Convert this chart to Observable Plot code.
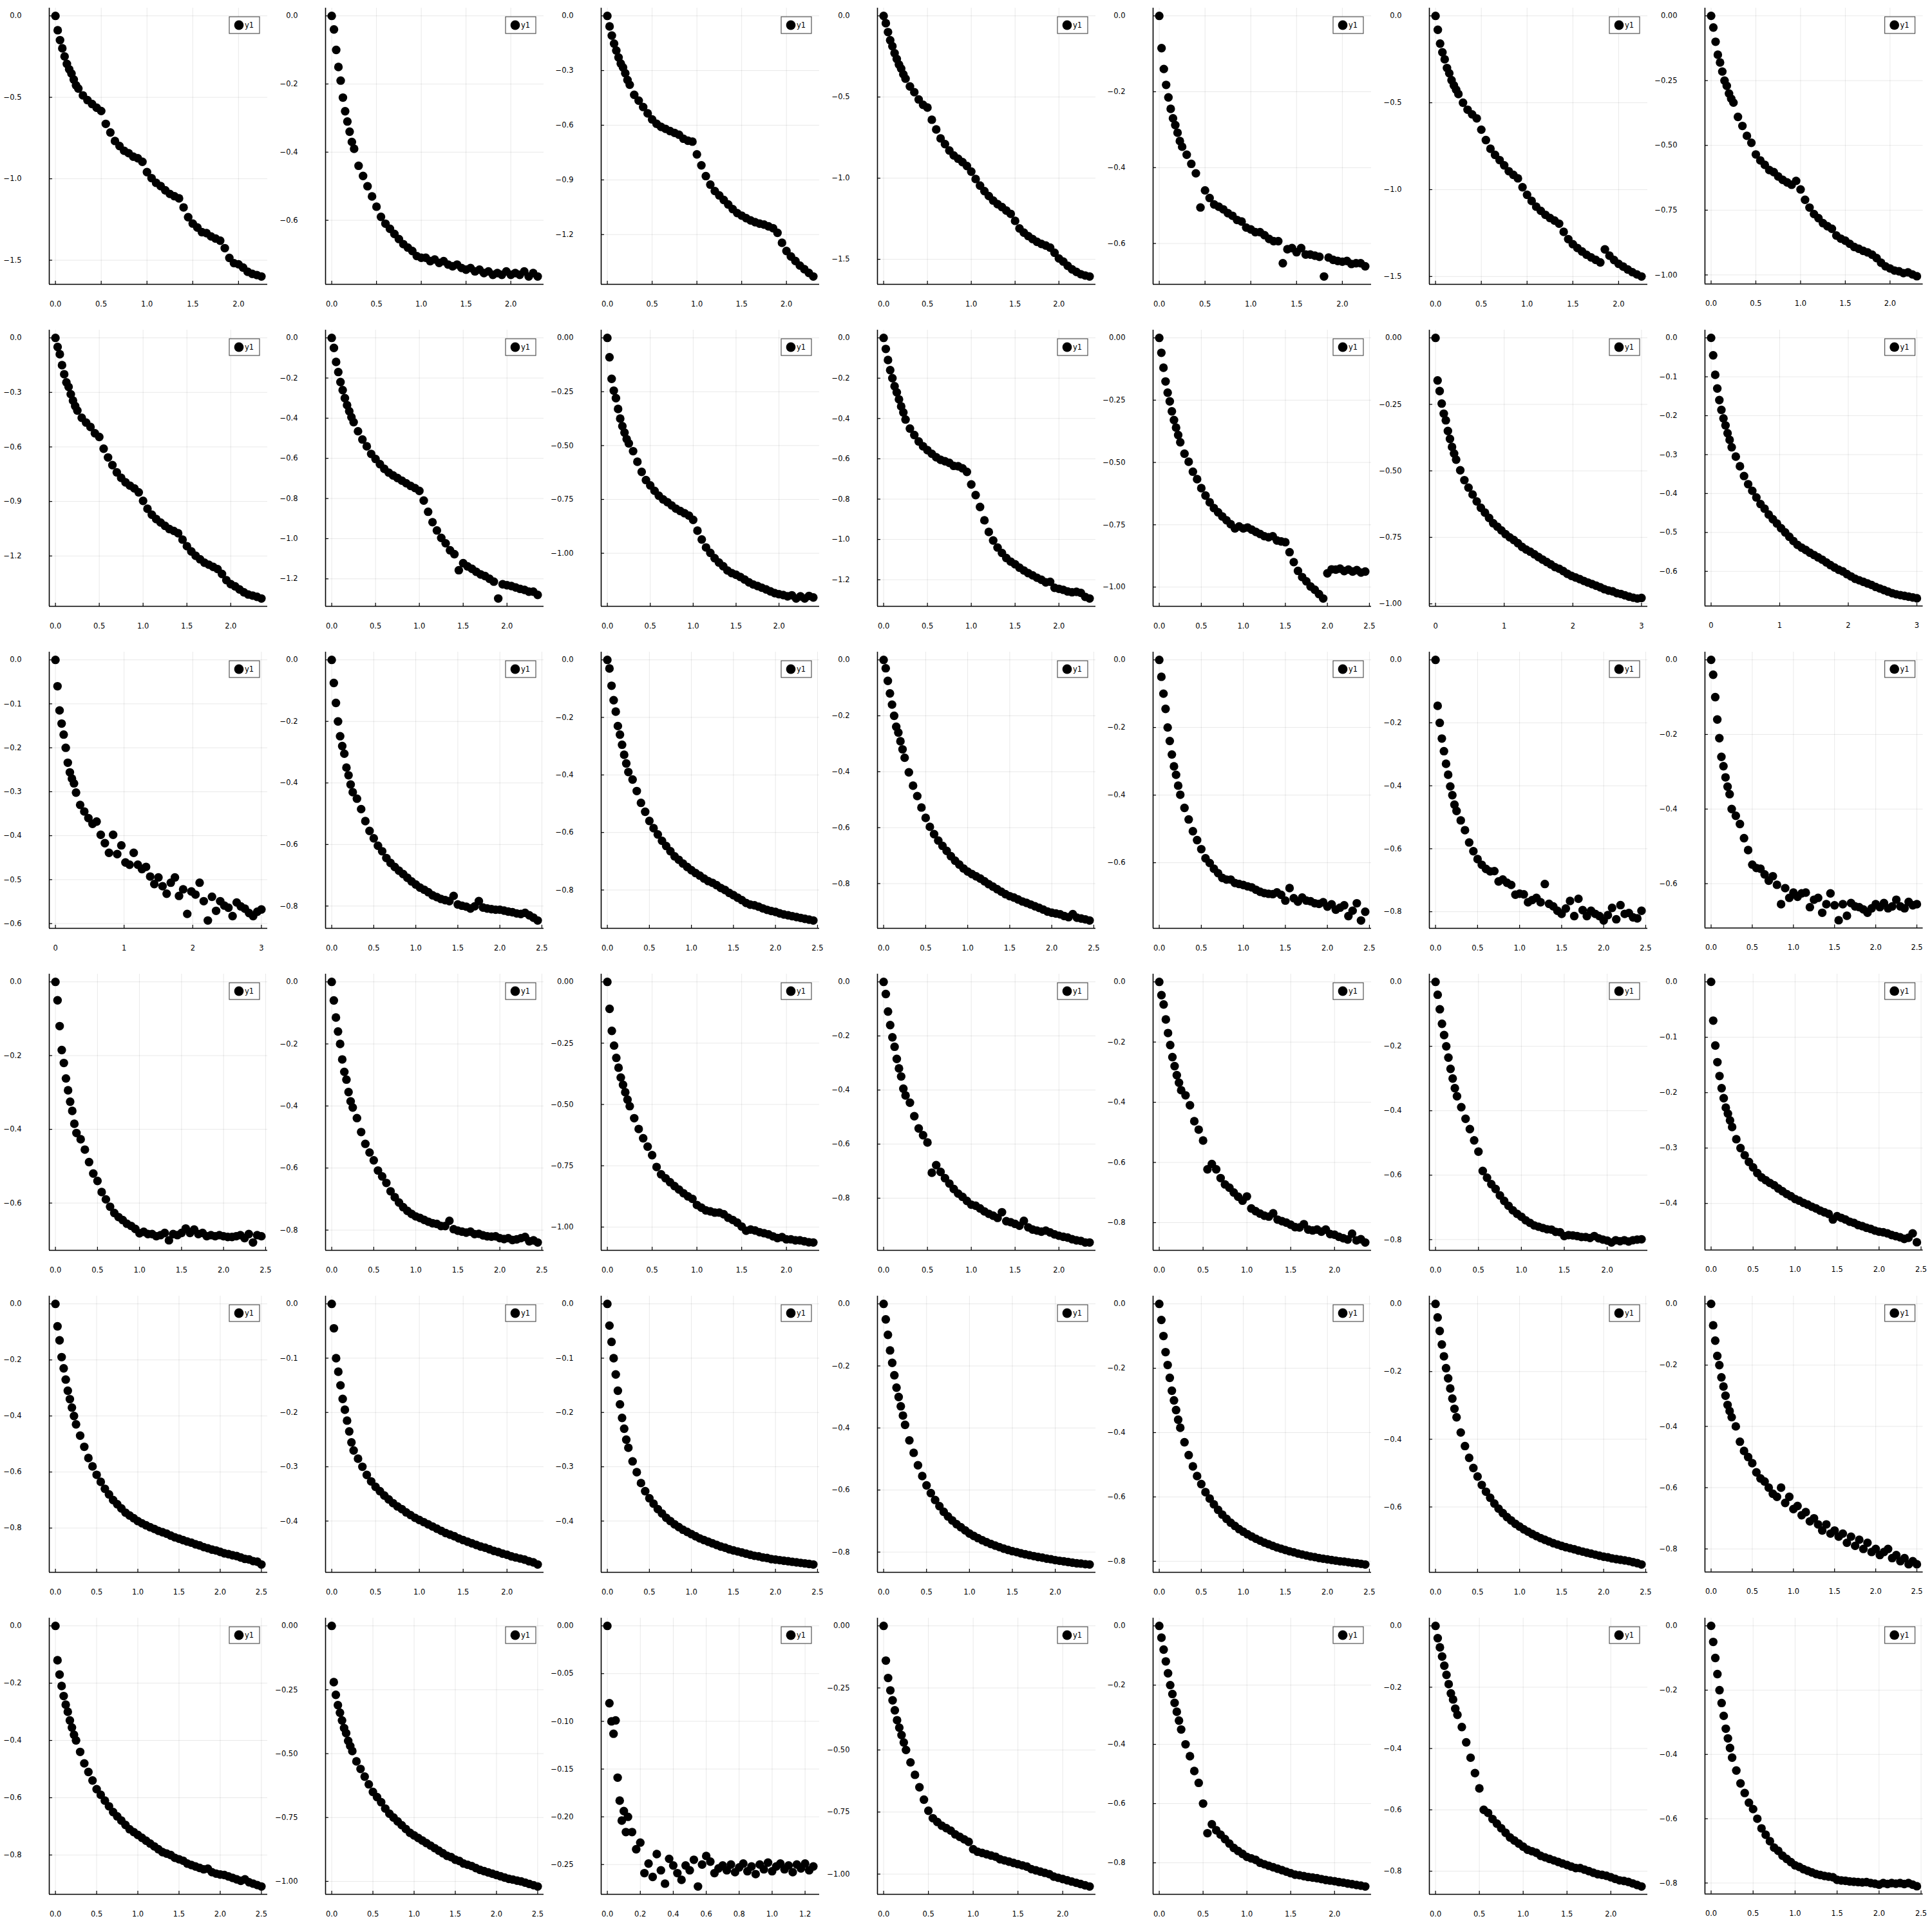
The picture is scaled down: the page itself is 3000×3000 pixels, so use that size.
<!DOCTYPE html>
<html>
<head>
<meta charset="utf-8">
<script src="https://cdn.jsdelivr.net/npm/d3@7"></script>
<script src="https://cdn.jsdelivr.net/npm/@observablehq/plot@0.6"></script>
<style>
  html, body { margin: 0; padding: 0; background: #fff; }
  #grid { position: relative; width: 3000px; height: 3000px; background: #fff; }
  .panel { position: absolute; }
</style>
</head>
<body>
<div id="grid"></div>
<script>
// ---- x sample positions ----
const XA = [0,0.025,0.05,0.075,0.1,0.125,0.15,0.175,0.2,0.225,0.25,0.3,0.35,0.4,0.45,0.5,0.55,0.6,0.65,0.7,0.75,0.8,0.85,0.9,0.95,1,1.05,1.1,1.15,1.2,1.25,1.3,1.35,1.4,1.45,1.5,1.55,1.6,1.65,1.7,1.75,1.8,1.85,1.9,1.95,2,2.05,2.1,2.15,2.2,2.25,2.3,2.35,2.4,2.45,2.5];
const X3 = [0,0.03,0.06,0.09,0.12,0.15,0.18,0.21,0.24,0.27,0.3,0.36,0.42,0.48,0.54,0.6,0.66,0.72,0.78,0.84,0.9,0.96,1.02,1.08,1.14,1.2,1.26,1.32,1.38,1.44,1.5,1.56,1.62,1.68,1.74,1.8,1.86,1.92,1.98,2.04,2.1,2.16,2.22,2.28,2.34,2.4,2.46,2.52,2.58,2.64,2.7,2.76,2.82,2.88,2.94,3];
const X125 = [0,0.0125,0.025,0.0375,0.05,0.0625,0.075,0.0875,0.1,0.1125,0.125,0.15,0.175,0.2,0.225,0.25,0.275,0.3,0.325,0.35,0.375,0.4,0.425,0.45,0.475,0.5,0.525,0.55,0.575,0.6,0.625,0.65,0.675,0.7,0.725,0.75,0.775,0.8,0.825,0.85,0.875,0.9,0.925,0.95,0.975,1,1.025,1.05,1.075,1.1,1.125,1.15,1.175,1.2,1.225,1.25];

// ---- series values (y1 of each panel) ----
const p01 = [0,-0.088,-0.149,-0.199,-0.249,-0.295,-0.328,-0.354,-0.391,-0.426,-0.446,-0.488,-0.517,-0.541,-0.564,-0.584,-0.663,-0.716,-0.768,-0.799,-0.828,-0.843,-0.864,-0.874,-0.896,-0.959,-0.996,-1.025,-1.045,-1.071,-1.093,-1.107,-1.12,-1.176,-1.236,-1.275,-1.299,-1.328,-1.334,-1.354,-1.367,-1.38,-1.426,-1.486,-1.518,-1.525,-1.545,-1.571,-1.584,-1.591,-1.6];
const p02 = [0,-0.04,-0.10,-0.15,-0.19,-0.24,-0.28,-0.31,-0.34,-0.37,-0.39,-0.44,-0.47,-0.50,-0.53,-0.56,-0.59,-0.61,-0.625,-0.64,-0.655,-0.67,-0.68,-0.69,-0.705,-0.71,-0.71,-0.72,-0.715,-0.725,-0.72,-0.73,-0.735,-0.73,-0.74,-0.745,-0.74,-0.75,-0.745,-0.755,-0.75,-0.76,-0.755,-0.76,-0.75,-0.76,-0.755,-0.76,-0.75,-0.765,-0.755,-0.765];
const p03 = [0,-0.058,-0.108,-0.152,-0.19,-0.228,-0.262,-0.283,-0.315,-0.352,-0.378,-0.433,-0.465,-0.5,-0.535,-0.568,-0.592,-0.609,-0.62,-0.632,-0.642,-0.652,-0.674,-0.685,-0.69,-0.76,-0.82,-0.879,-0.926,-0.961,-0.985,-1.01,-1.035,-1.06,-1.082,-1.096,-1.11,-1.122,-1.132,-1.14,-1.145,-1.155,-1.165,-1.19,-1.245,-1.29,-1.32,-1.345,-1.37,-1.39,-1.41,-1.43];
const p04 = [0,-0.045,-0.1,-0.15,-0.187,-0.23,-0.265,-0.3,-0.325,-0.36,-0.387,-0.435,-0.47,-0.515,-0.548,-0.565,-0.64,-0.7,-0.755,-0.79,-0.83,-0.86,-0.88,-0.901,-0.925,-0.96,-1.005,-1.046,-1.08,-1.11,-1.138,-1.16,-1.178,-1.2,-1.22,-1.263,-1.31,-1.336,-1.357,-1.375,-1.392,-1.405,-1.415,-1.428,-1.46,-1.495,-1.514,-1.54,-1.562,-1.578,-1.592,-1.6,-1.606];
const p05 = [0,-0.085,-0.14,-0.182,-0.215,-0.245,-0.27,-0.288,-0.308,-0.33,-0.345,-0.366,-0.39,-0.415,-0.505,-0.46,-0.48,-0.497,-0.503,-0.51,-0.52,-0.527,-0.538,-0.542,-0.558,-0.563,-0.57,-0.57,-0.578,-0.588,-0.594,-0.594,-0.652,-0.615,-0.612,-0.623,-0.612,-0.629,-0.629,-0.632,-0.635,-0.687,-0.637,-0.643,-0.646,-0.648,-0.646,-0.654,-0.652,-0.652,-0.66];
const p06 = [0,-0.08,-0.16,-0.21,-0.25,-0.3,-0.33,-0.37,-0.4,-0.425,-0.45,-0.5,-0.54,-0.567,-0.59,-0.655,-0.715,-0.765,-0.8,-0.83,-0.86,-0.894,-0.915,-0.935,-0.986,-1.03,-1.065,-1.098,-1.122,-1.145,-1.163,-1.178,-1.196,-1.243,-1.285,-1.314,-1.336,-1.356,-1.375,-1.39,-1.404,-1.419,-1.344,-1.38,-1.405,-1.427,-1.443,-1.46,-1.475,-1.488,-1.5];
const p07 = [0,-0.045,-0.1,-0.15,-0.18,-0.215,-0.25,-0.27,-0.3,-0.32,-0.335,-0.39,-0.425,-0.463,-0.49,-0.535,-0.558,-0.575,-0.595,-0.603,-0.62,-0.633,-0.643,-0.652,-0.637,-0.67,-0.71,-0.74,-0.765,-0.781,-0.8,-0.812,-0.822,-0.848,-0.86,-0.868,-0.88,-0.892,-0.899,-0.907,-0.913,-0.922,-0.935,-0.953,-0.967,-0.975,-0.983,-0.986,-0.993,-0.99,-0.998,-1.005];
const p08 = [0,-0.05,-0.09,-0.15,-0.2,-0.245,-0.27,-0.31,-0.345,-0.375,-0.4,-0.44,-0.466,-0.49,-0.525,-0.545,-0.61,-0.658,-0.7,-0.74,-0.77,-0.795,-0.813,-0.828,-0.85,-0.897,-0.94,-0.973,-0.997,-1.016,-1.034,-1.052,-1.062,-1.075,-1.11,-1.146,-1.175,-1.199,-1.218,-1.237,-1.248,-1.26,-1.272,-1.299,-1.333,-1.355,-1.367,-1.384,-1.4,-1.412,-1.418,-1.425,-1.434];
const p09 = [0,-0.05,-0.12,-0.17,-0.22,-0.26,-0.3,-0.335,-0.365,-0.395,-0.42,-0.465,-0.506,-0.54,-0.578,-0.603,-0.629,-0.652,-0.671,-0.685,-0.698,-0.711,-0.724,-0.737,-0.748,-0.762,-0.81,-0.866,-0.918,-0.959,-0.996,-1.023,-1.058,-1.077,-1.157,-1.122,-1.138,-1.15,-1.165,-1.178,-1.186,-1.2,-1.214,-1.298,-1.227,-1.232,-1.236,-1.243,-1.25,-1.255,-1.264,-1.264,-1.28];
const p10 = [0,-0.09,-0.19,-0.245,-0.28,-0.33,-0.375,-0.41,-0.44,-0.47,-0.49,-0.526,-0.575,-0.622,-0.66,-0.685,-0.71,-0.733,-0.75,-0.763,-0.778,-0.793,-0.804,-0.814,-0.825,-0.845,-0.895,-0.936,-0.973,-0.998,-1.023,-1.043,-1.06,-1.08,-1.092,-1.1,-1.11,-1.122,-1.135,-1.145,-1.152,-1.16,-1.168,-1.177,-1.185,-1.19,-1.194,-1.2,-1.195,-1.21,-1.2,-1.21,-1.198,-1.205];
const p11 = [0,-0.055,-0.11,-0.16,-0.2,-0.24,-0.27,-0.305,-0.34,-0.37,-0.405,-0.45,-0.482,-0.514,-0.538,-0.557,-0.575,-0.592,-0.605,-0.612,-0.62,-0.635,-0.637,-0.647,-0.665,-0.727,-0.78,-0.839,-0.905,-0.963,-1.005,-1.04,-1.067,-1.092,-1.11,-1.123,-1.14,-1.154,-1.167,-1.178,-1.19,-1.2,-1.213,-1.21,-1.24,-1.245,-1.25,-1.258,-1.262,-1.26,-1.265,-1.285,-1.293];
const p12 = [0,-0.06,-0.12,-0.175,-0.22,-0.255,-0.295,-0.33,-0.36,-0.39,-0.419,-0.465,-0.497,-0.537,-0.567,-0.603,-0.633,-0.66,-0.683,-0.7,-0.717,-0.732,-0.748,-0.765,-0.757,-0.765,-0.761,-0.77,-0.779,-0.787,-0.796,-0.8,-0.796,-0.813,-0.817,-0.82,-0.86,-0.9,-0.935,-0.96,-0.977,-0.998,-1.011,-1.028,-1.046,-0.945,-0.929,-0.93,-0.926,-0.936,-0.93,-0.938,-0.932,-0.942,-0.938];
const p13 = [0,-0.16,-0.2,-0.247,-0.285,-0.31,-0.35,-0.38,-0.41,-0.435,-0.458,-0.498,-0.535,-0.563,-0.589,-0.615,-0.639,-0.657,-0.677,-0.697,-0.71,-0.724,-0.738,-0.75,-0.76,-0.772,-0.786,-0.796,-0.804,-0.814,-0.824,-0.834,-0.843,-0.852,-0.862,-0.868,-0.877,-0.887,-0.895,-0.901,-0.907,-0.914,-0.92,-0.926,-0.932,-0.938,-0.945,-0.95,-0.953,-0.96,-0.963,-0.968,-0.973,-0.977,-0.98,-0.978];
const p14 = [0,-0.045,-0.095,-0.13,-0.16,-0.185,-0.207,-0.225,-0.245,-0.262,-0.281,-0.305,-0.33,-0.355,-0.376,-0.393,-0.41,-0.427,-0.439,-0.454,-0.466,-0.477,-0.489,-0.5,-0.511,-0.522,-0.532,-0.539,-0.545,-0.552,-0.558,-0.564,-0.57,-0.577,-0.584,-0.59,-0.596,-0.6,-0.607,-0.613,-0.619,-0.623,-0.627,-0.631,-0.635,-0.64,-0.644,-0.648,-0.652,-0.656,-0.659,-0.661,-0.663,-0.665,-0.667,-0.669];
const p15 = [0,-0.06,-0.115,-0.145,-0.17,-0.2,-0.234,-0.256,-0.27,-0.281,-0.302,-0.33,-0.345,-0.36,-0.373,-0.368,-0.398,-0.417,-0.439,-0.398,-0.442,-0.422,-0.461,-0.466,-0.439,-0.466,-0.476,-0.471,-0.493,-0.51,-0.495,-0.515,-0.532,-0.507,-0.495,-0.537,-0.522,-0.578,-0.527,-0.534,-0.507,-0.549,-0.593,-0.539,-0.571,-0.549,-0.559,-0.564,-0.583,-0.552,-0.561,-0.566,-0.576,-0.583,-0.573,-0.568];
const p16 = [0,-0.075,-0.14,-0.2,-0.248,-0.28,-0.305,-0.35,-0.375,-0.405,-0.43,-0.451,-0.485,-0.524,-0.556,-0.58,-0.604,-0.622,-0.644,-0.66,-0.673,-0.685,-0.696,-0.708,-0.72,-0.73,-0.74,-0.747,-0.755,-0.765,-0.771,-0.777,-0.781,-0.784,-0.767,-0.795,-0.799,-0.802,-0.808,-0.801,-0.784,-0.805,-0.808,-0.81,-0.812,-0.812,-0.815,-0.818,-0.82,-0.824,-0.826,-0.822,-0.83,-0.838,-0.847];
const p17 = [0,-0.03,-0.09,-0.14,-0.18,-0.23,-0.26,-0.295,-0.33,-0.36,-0.39,-0.416,-0.456,-0.497,-0.528,-0.56,-0.585,-0.607,-0.629,-0.647,-0.665,-0.683,-0.695,-0.708,-0.72,-0.731,-0.741,-0.75,-0.76,-0.769,-0.775,-0.783,-0.793,-0.8,-0.81,-0.818,-0.827,-0.835,-0.845,-0.851,-0.853,-0.858,-0.864,-0.869,-0.873,-0.876,-0.881,-0.885,-0.888,-0.891,-0.894,-0.897,-0.9,-0.903,-0.906];
const p18 = [0,-0.03,-0.075,-0.12,-0.16,-0.2,-0.239,-0.26,-0.291,-0.32,-0.35,-0.402,-0.45,-0.487,-0.528,-0.565,-0.597,-0.623,-0.646,-0.665,-0.683,-0.702,-0.718,-0.732,-0.746,-0.757,-0.766,-0.774,-0.782,-0.792,-0.802,-0.811,-0.82,-0.829,-0.838,-0.845,-0.85,-0.857,-0.864,-0.869,-0.875,-0.881,-0.887,-0.893,-0.9,-0.904,-0.907,-0.91,-0.916,-0.92,-0.909,-0.922,-0.925,-0.928,-0.932];
const p19 = [0,-0.05,-0.1,-0.145,-0.2,-0.24,-0.28,-0.315,-0.34,-0.372,-0.399,-0.438,-0.472,-0.507,-0.533,-0.56,-0.587,-0.601,-0.618,-0.631,-0.645,-0.65,-0.65,-0.66,-0.663,-0.666,-0.67,-0.673,-0.68,-0.686,-0.69,-0.692,-0.693,-0.688,-0.695,-0.712,-0.675,-0.705,-0.715,-0.703,-0.712,-0.714,-0.72,-0.722,-0.717,-0.73,-0.723,-0.739,-0.733,-0.726,-0.758,-0.742,-0.72,-0.771,-0.745];
const p20 = [0,-0.146,-0.2,-0.25,-0.29,-0.33,-0.365,-0.402,-0.43,-0.46,-0.48,-0.51,-0.541,-0.58,-0.608,-0.633,-0.651,-0.664,-0.672,-0.671,-0.704,-0.698,-0.708,-0.715,-0.746,-0.743,-0.745,-0.77,-0.763,-0.756,-0.77,-0.712,-0.775,-0.783,-0.797,-0.807,-0.79,-0.766,-0.814,-0.759,-0.795,-0.814,-0.797,-0.807,-0.814,-0.828,-0.811,-0.788,-0.824,-0.779,-0.807,-0.804,-0.818,-0.821,-0.797];
const p21 = [0,-0.04,-0.1,-0.16,-0.21,-0.26,-0.285,-0.315,-0.34,-0.36,-0.4,-0.418,-0.44,-0.478,-0.51,-0.549,-0.558,-0.56,-0.575,-0.592,-0.58,-0.603,-0.655,-0.612,-0.638,-0.624,-0.635,-0.626,-0.624,-0.663,-0.643,-0.638,-0.678,-0.655,-0.626,-0.658,-0.698,-0.655,-0.686,-0.652,-0.661,-0.663,-0.669,-0.678,-0.666,-0.655,-0.663,-0.652,-0.666,-0.661,-0.643,-0.661,-0.666,-0.649,-0.658,-0.655];
const p22 = [0,-0.05,-0.12,-0.185,-0.22,-0.262,-0.294,-0.325,-0.35,-0.385,-0.41,-0.427,-0.455,-0.489,-0.52,-0.54,-0.57,-0.59,-0.61,-0.627,-0.638,-0.646,-0.656,-0.662,-0.67,-0.682,-0.678,-0.684,-0.684,-0.69,-0.687,-0.681,-0.701,-0.684,-0.687,-0.681,-0.669,-0.681,-0.672,-0.684,-0.681,-0.69,-0.687,-0.69,-0.687,-0.69,-0.692,-0.692,-0.69,-0.687,-0.695,-0.684,-0.707,-0.687,-0.69];
const p23 = [0,-0.06,-0.115,-0.16,-0.2,-0.25,-0.29,-0.315,-0.355,-0.385,-0.405,-0.439,-0.484,-0.522,-0.55,-0.575,-0.608,-0.627,-0.648,-0.675,-0.694,-0.711,-0.726,-0.738,-0.748,-0.756,-0.761,-0.767,-0.773,-0.778,-0.78,-0.787,-0.787,-0.77,-0.797,-0.802,-0.805,-0.808,-0.805,-0.813,-0.812,-0.817,-0.82,-0.821,-0.82,-0.826,-0.829,-0.826,-0.832,-0.83,-0.826,-0.822,-0.836,-0.833,-0.84];
const p24 = [0,-0.11,-0.2,-0.26,-0.31,-0.35,-0.39,-0.42,-0.45,-0.48,-0.507,-0.556,-0.6,-0.638,-0.672,-0.707,-0.755,-0.785,-0.801,-0.817,-0.833,-0.847,-0.862,-0.875,-0.885,-0.91,-0.921,-0.932,-0.936,-0.941,-0.941,-0.948,-0.962,-0.971,-0.982,-0.998,-1.015,-1.01,-1.014,-1.021,-1.025,-1.03,-1.038,-1.045,-1.041,-1.05,-1.05,-1.054,-1.054,-1.058,-1.062,-1.063];
const p25 = [0,-0.045,-0.11,-0.16,-0.205,-0.24,-0.285,-0.32,-0.35,-0.395,-0.42,-0.447,-0.497,-0.542,-0.567,-0.594,-0.706,-0.678,-0.703,-0.726,-0.746,-0.766,-0.783,-0.795,-0.81,-0.824,-0.828,-0.838,-0.849,-0.858,-0.865,-0.873,-0.852,-0.885,-0.889,-0.895,-0.902,-0.884,-0.908,-0.916,-0.92,-0.924,-0.92,-0.927,-0.934,-0.939,-0.943,-0.946,-0.952,-0.956,-0.958,-0.964,-0.964];
const p26 = [0,-0.044,-0.075,-0.125,-0.17,-0.21,-0.25,-0.28,-0.31,-0.335,-0.36,-0.377,-0.41,-0.463,-0.491,-0.527,-0.623,-0.605,-0.623,-0.652,-0.673,-0.684,-0.7,-0.714,-0.727,-0.713,-0.753,-0.762,-0.77,-0.777,-0.78,-0.769,-0.79,-0.795,-0.8,-0.807,-0.815,-0.816,-0.805,-0.823,-0.826,-0.823,-0.83,-0.823,-0.838,-0.84,-0.847,-0.852,-0.856,-0.837,-0.859,-0.855,-0.866];
const p27 = [0,-0.04,-0.085,-0.13,-0.165,-0.2,-0.235,-0.27,-0.3,-0.33,-0.355,-0.389,-0.425,-0.457,-0.492,-0.527,-0.587,-0.608,-0.628,-0.643,-0.663,-0.68,-0.695,-0.709,-0.72,-0.729,-0.74,-0.748,-0.756,-0.76,-0.764,-0.768,-0.769,-0.776,-0.777,-0.789,-0.786,-0.787,-0.789,-0.792,-0.792,-0.795,-0.789,-0.796,-0.8,-0.803,-0.809,-0.802,-0.805,-0.802,-0.806,-0.802,-0.8,-0.799];
const p28 = [0,-0.07,-0.115,-0.145,-0.17,-0.192,-0.21,-0.227,-0.238,-0.25,-0.262,-0.284,-0.3,-0.313,-0.325,-0.335,-0.345,-0.353,-0.358,-0.363,-0.367,-0.373,-0.378,-0.383,-0.387,-0.392,-0.395,-0.399,-0.402,-0.406,-0.409,-0.413,-0.416,-0.419,-0.429,-0.423,-0.426,-0.429,-0.433,-0.435,-0.439,-0.441,-0.444,-0.446,-0.449,-0.451,-0.452,-0.454,-0.457,-0.459,-0.461,-0.464,-0.462,-0.454,-0.47];
const p29 = [0,-0.08,-0.13,-0.19,-0.23,-0.27,-0.31,-0.34,-0.37,-0.4,-0.43,-0.47,-0.51,-0.55,-0.58,-0.61,-0.635,-0.66,-0.68,-0.7,-0.715,-0.73,-0.745,-0.755,-0.765,-0.775,-0.783,-0.79,-0.797,-0.803,-0.81,-0.815,-0.82,-0.827,-0.833,-0.838,-0.843,-0.848,-0.852,-0.858,-0.862,-0.868,-0.872,-0.877,-0.88,-0.885,-0.89,-0.893,-0.897,-0.9,-0.905,-0.91,-0.912,-0.918,-0.92,-0.93];
const p30 = [0,-0.045,-0.1,-0.125,-0.15,-0.175,-0.195,-0.215,-0.235,-0.255,-0.27,-0.285,-0.3,-0.315,-0.327,-0.337,-0.345,-0.353,-0.36,-0.367,-0.373,-0.378,-0.384,-0.389,-0.394,-0.398,-0.402,-0.406,-0.41,-0.414,-0.418,-0.422,-0.425,-0.428,-0.432,-0.435,-0.438,-0.441,-0.444,-0.447,-0.449,-0.452,-0.455,-0.457,-0.46,-0.462,-0.465,-0.467,-0.469,-0.471,-0.474,-0.476,-0.48];
const p31 = [0,-0.04,-0.07,-0.1,-0.13,-0.16,-0.185,-0.21,-0.23,-0.25,-0.265,-0.29,-0.31,-0.33,-0.345,-0.358,-0.368,-0.378,-0.386,-0.394,-0.4,-0.406,-0.411,-0.416,-0.42,-0.424,-0.428,-0.432,-0.435,-0.438,-0.441,-0.444,-0.447,-0.449,-0.452,-0.454,-0.456,-0.458,-0.46,-0.462,-0.464,-0.465,-0.467,-0.468,-0.47,-0.471,-0.472,-0.473,-0.474,-0.475,-0.476,-0.477,-0.478,-0.479,-0.48];
const p32 = [0,-0.05,-0.1,-0.15,-0.19,-0.23,-0.27,-0.3,-0.33,-0.36,-0.39,-0.44,-0.48,-0.52,-0.555,-0.585,-0.61,-0.632,-0.652,-0.67,-0.685,-0.698,-0.71,-0.72,-0.73,-0.74,-0.748,-0.755,-0.762,-0.768,-0.774,-0.779,-0.784,-0.789,-0.793,-0.797,-0.8,-0.804,-0.807,-0.81,-0.813,-0.816,-0.818,-0.821,-0.823,-0.826,-0.828,-0.83,-0.832,-0.834,-0.836,-0.837,-0.839,-0.84];
const p33 = [0,-0.05,-0.1,-0.15,-0.19,-0.23,-0.27,-0.3,-0.33,-0.36,-0.385,-0.43,-0.47,-0.505,-0.535,-0.56,-0.585,-0.605,-0.623,-0.64,-0.655,-0.668,-0.68,-0.69,-0.7,-0.708,-0.716,-0.723,-0.73,-0.736,-0.742,-0.747,-0.752,-0.757,-0.761,-0.765,-0.769,-0.772,-0.776,-0.779,-0.782,-0.785,-0.787,-0.79,-0.792,-0.794,-0.796,-0.798,-0.8,-0.801,-0.803,-0.805,-0.806,-0.808,-0.81];
const p34 = [0,-0.04,-0.08,-0.12,-0.155,-0.19,-0.22,-0.25,-0.28,-0.31,-0.335,-0.38,-0.42,-0.455,-0.485,-0.51,-0.535,-0.555,-0.573,-0.59,-0.605,-0.618,-0.63,-0.64,-0.65,-0.658,-0.666,-0.673,-0.68,-0.686,-0.692,-0.697,-0.702,-0.707,-0.711,-0.715,-0.719,-0.722,-0.725,-0.729,-0.732,-0.735,-0.738,-0.741,-0.744,-0.747,-0.749,-0.752,-0.754,-0.756,-0.758,-0.76,-0.763,-0.766,-0.77];
const p35 = [0,-0.07,-0.12,-0.17,-0.2,-0.24,-0.27,-0.3,-0.33,-0.35,-0.37,-0.4,-0.45,-0.48,-0.5,-0.52,-0.55,-0.57,-0.58,-0.6,-0.62,-0.63,-0.6,-0.65,-0.63,-0.67,-0.66,-0.69,-0.68,-0.71,-0.7,-0.72,-0.74,-0.72,-0.75,-0.74,-0.76,-0.75,-0.78,-0.76,-0.79,-0.77,-0.8,-0.78,-0.81,-0.8,-0.82,-0.81,-0.8,-0.83,-0.82,-0.84,-0.83,-0.85,-0.84,-0.85];
const p36 = [0,-0.12,-0.17,-0.21,-0.245,-0.275,-0.3,-0.33,-0.355,-0.38,-0.4,-0.44,-0.48,-0.51,-0.54,-0.57,-0.59,-0.61,-0.63,-0.65,-0.665,-0.68,-0.695,-0.71,-0.72,-0.73,-0.74,-0.75,-0.76,-0.77,-0.78,-0.79,-0.795,-0.8,-0.81,-0.815,-0.82,-0.83,-0.835,-0.84,-0.845,-0.85,-0.848,-0.86,-0.865,-0.868,-0.87,-0.875,-0.88,-0.885,-0.89,-0.885,-0.895,-0.9,-0.905,-0.91];
const p37 = [0,-0.22,-0.27,-0.31,-0.34,-0.37,-0.4,-0.42,-0.45,-0.47,-0.49,-0.53,-0.56,-0.59,-0.62,-0.65,-0.67,-0.69,-0.715,-0.735,-0.75,-0.765,-0.78,-0.795,-0.81,-0.82,-0.83,-0.84,-0.85,-0.86,-0.87,-0.88,-0.89,-0.9,-0.905,-0.915,-0.92,-0.93,-0.935,-0.94,-0.948,-0.955,-0.96,-0.965,-0.97,-0.975,-0.98,-0.985,-0.99,-0.993,-0.997,-1.0,-1.005,-1.01,-1.015,-1.02];
const p38 = [0,-0.081,-0.1,-0.113,-0.099,-0.159,-0.183,-0.204,-0.194,-0.216,-0.2,-0.216,-0.234,-0.227,-0.259,-0.249,-0.263,-0.239,-0.256,-0.27,-0.244,-0.251,-0.259,-0.266,-0.251,-0.256,-0.245,-0.273,-0.25,-0.241,-0.247,-0.259,-0.254,-0.251,-0.256,-0.25,-0.258,-0.253,-0.249,-0.257,-0.252,-0.26,-0.25,-0.255,-0.248,-0.257,-0.252,-0.249,-0.255,-0.251,-0.258,-0.25,-0.254,-0.249,-0.256,-0.252];
const p39 = [0,-0.14,-0.21,-0.26,-0.3,-0.34,-0.38,-0.41,-0.44,-0.47,-0.5,-0.55,-0.6,-0.65,-0.7,-0.745,-0.775,-0.79,-0.805,-0.815,-0.825,-0.84,-0.85,-0.86,-0.87,-0.9,-0.91,-0.915,-0.92,-0.925,-0.93,-0.94,-0.945,-0.95,-0.955,-0.96,-0.965,-0.97,-0.98,-0.985,-0.99,-0.995,-1.0,-1.01,-1.015,-1.02,-1.025,-1.03,-1.035,-1.04,-1.045,-1.05];
const p40 = [0,-0.04,-0.08,-0.12,-0.16,-0.2,-0.23,-0.26,-0.29,-0.32,-0.35,-0.4,-0.44,-0.49,-0.53,-0.6,-0.7,-0.67,-0.69,-0.705,-0.72,-0.735,-0.75,-0.76,-0.77,-0.78,-0.785,-0.79,-0.8,-0.805,-0.81,-0.815,-0.82,-0.825,-0.83,-0.835,-0.84,-0.842,-0.845,-0.848,-0.85,-0.852,-0.855,-0.858,-0.86,-0.862,-0.865,-0.867,-0.87,-0.872,-0.875,-0.877,-0.88];
const p41 = [0,-0.04,-0.07,-0.1,-0.13,-0.16,-0.19,-0.22,-0.24,-0.27,-0.29,-0.33,-0.38,-0.43,-0.48,-0.53,-0.6,-0.61,-0.63,-0.645,-0.66,-0.675,-0.69,-0.7,-0.71,-0.72,-0.73,-0.735,-0.74,-0.75,-0.755,-0.76,-0.765,-0.77,-0.775,-0.78,-0.785,-0.79,-0.79,-0.795,-0.8,-0.805,-0.81,-0.812,-0.815,-0.82,-0.825,-0.83,-0.832,-0.835,-0.84,-0.845,-0.85];
const p42 = [0,-0.05,-0.1,-0.15,-0.2,-0.24,-0.28,-0.32,-0.35,-0.38,-0.41,-0.45,-0.49,-0.52,-0.55,-0.57,-0.6,-0.63,-0.65,-0.67,-0.69,-0.7,-0.715,-0.725,-0.735,-0.745,-0.75,-0.757,-0.762,-0.767,-0.772,-0.775,-0.778,-0.78,-0.782,-0.79,-0.792,-0.793,-0.795,-0.796,-0.797,-0.798,-0.797,-0.8,-0.802,-0.805,-0.8,-0.803,-0.8,-0.802,-0.8,-0.803,-0.8,-0.805,-0.81];

const series = [p01,p02,p03,p04,p05,p06,p07,p08,p09,p10,p11,p12,p13,p14,p15,p16,p17,p18,p19,p20,p21,p22,p23,p24,p25,p26,p27,p28,p29,p30,p31,p32,p33,p34,p35,p36,p37,p38,p39,p40,p41,p42];
const xGrid = [XA,XA,XA,XA,XA,XA,XA, XA,XA,XA,XA,XA,X3,X3, X3,XA,XA,XA,XA,XA,XA, XA,XA,XA,XA,XA,XA,XA, XA,XA,XA,XA,XA,XA,XA, XA,XA,X125,XA,XA,XA,XA];
// tick spacing of each panel's axes
const yTickStep = [0.5,0.2,0.3,0.5,0.2,0.5,0.25, 0.3,0.2,0.25,0.2,0.25,0.25,0.1, 0.1,0.2,0.2,0.2,0.2,0.2,0.2, 0.2,0.2,0.25,0.2,0.2,0.2,0.1, 0.2,0.1,0.1,0.2,0.2,0.2,0.2, 0.2,0.25,0.05,0.25,0.2,0.2,0.2];
const xTickStep = [0.5,0.5,0.5,0.5,0.5,0.5,0.5, 0.5,0.5,0.5,0.5,0.5,1,1, 1,0.5,0.5,0.5,0.5,0.5,0.5, 0.5,0.5,0.5,0.5,0.5,0.5,0.5, 0.5,0.5,0.5,0.5,0.5,0.5,0.5, 0.5,0.5,0.2,0.5,0.5,0.5,0.5];
const legendLabel = "y1";

const COLS = 7, PW = 3000 / 7, PH = 500;
const W = 429, MT = 12, MB = 59, ML = 76, MR = 14;

function decimals(step) {
  let d = 0;
  while (Math.abs(Math.round(step * 10 ** d) - step * 10 ** d) > 1e-9 && d < 6) d++;
  return d;
}
function fmt(step) {
  const d = decimals(step);
  return v => (Math.abs(v) < 1e-12 ? 0 : v).toFixed(d).replace("-", "\u2212");
}
function ticksIn(dom, step) {
  const out = [];
  for (let k = Math.ceil(dom[0] / step - 1e-9); k * step <= dom[1] + 1e-9; k++) out.push(+(k * step).toFixed(6));
  return out;
}

const grid = document.getElementById("grid");
series.forEach((ys, i) => {
  const xs = xGrid[i];
  const n = Math.min(ys.length, xs.length);
  const data = [];
  for (let j = 0; j < n; j++) data.push({x: xs[j], y: ys[j]});
  const [x0, x1] = d3.extent(data, d => d.x);
  const [y0, y1] = d3.extent(data, d => d.y);
  const px = 0.03 * (x1 - x0), py = 0.03 * (y1 - y0);
  const xd = [x0 - px, x1 + px], yd = [y0 - py, y1 + py];
  const xt = ticksIn(xd, xTickStep[i]);
  const yt = ticksIn(yd, yTickStep[i]);

  const svg = Plot.plot({
    width: W, height: PH,
    marginTop: MT, marginBottom: MB, marginLeft: ML, marginRight: MR,
    style: {fontFamily: "'DejaVu Sans', sans-serif", fontSize: "11.5px", color: "#000", background: "#fff", overflow: "visible"},
    x: {domain: xd, label: null},
    y: {domain: yd, label: null},
    marks: [
      Plot.gridX({ticks: xt, stroke: "#000", strokeOpacity: 0.09, strokeWidth: 1}),
      Plot.gridY({ticks: yt, stroke: "#000", strokeOpacity: 0.09, strokeWidth: 1}),
      Plot.axisX({ticks: xt, tickSize: -5, tickFormat: () => "", label: null, stroke: "#000", strokeWidth: 1.2}),
      Plot.axisX({ticks: xt, tickSize: 0, tickPadding: 26, tickFormat: fmt(xTickStep[i]), label: null, fill: "#000"}),
      Plot.axisY({ticks: yt, tickSize: -5, tickFormat: () => "", label: null, stroke: "#000", strokeWidth: 1.2}),
      Plot.axisY({ticks: yt, tickSize: 0, tickPadding: 43, tickFormat: fmt(yTickStep[i]), label: null, fill: "#000"}),
      Plot.ruleX([xd[0]], {stroke: "#000", strokeWidth: 1.6}),
      Plot.ruleY([yd[0]], {stroke: "#000", strokeWidth: 1.6}),
      Plot.dot(data, {x: "x", y: "y", r: 6.7, fill: "#000", stroke: "none"})
    ]
  });

  // legend box (top right of the plot area)
  const s = d3.select(svg);
  const bx = W - MR - 12 - 47, by = MT + 14;
  const g = s.append("g").attr("class", "legend");
  g.append("rect").attr("x", bx).attr("y", by).attr("width", 47).attr("height", 26)
    .attr("fill", "#fff").attr("stroke", "#444").attr("stroke-width", 1.1);
  g.append("circle").attr("cx", bx + 15).attr("cy", by + 13).attr("r", 7.4).attr("fill", "#000");
  g.append("text").attr("x", bx + 31).attr("y", by + 13).attr("dy", "0.35em")
    .attr("font-family", "'DejaVu Sans', sans-serif").attr("font-size", "11.5px").attr("fill", "#000").text(legendLabel);

  const div = document.createElement("div");
  div.className = "panel";
  div.style.left = (i % COLS) * PW + "px";
  div.style.top = Math.floor(i / COLS) * PH + "px";
  div.appendChild(svg);
  grid.appendChild(div);
});
</script>
</body>
</html>
